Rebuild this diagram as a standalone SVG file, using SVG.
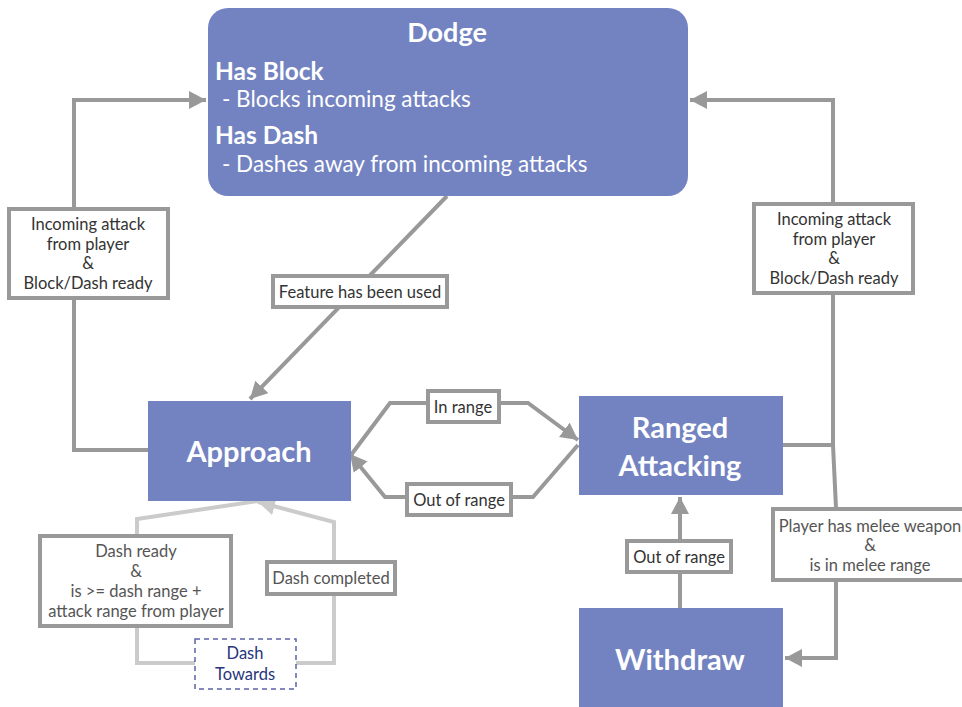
<svg xmlns="http://www.w3.org/2000/svg" width="962" height="707" viewBox="0 0 962 707">
<defs>
<marker id="ah" markerUnits="userSpaceOnUse" markerWidth="20" markerHeight="20" refX="17" refY="9" orient="auto"><path d="M0,0 L17,9 L0,18 z" fill="#999"/></marker>
<marker id="ahl" markerUnits="userSpaceOnUse" markerWidth="20" markerHeight="20" refX="17" refY="9" orient="auto"><path d="M0,0 L17,9 L0,18 z" fill="#cbcbcb"/></marker>
<style>
.node{fill:#7383c1}
.nt{font-family:Lato,"Liberation Sans",sans-serif;font-weight:bold;fill:#fff;text-anchor:middle;font-size:29px}
.c{fill:none;stroke:#999;stroke-width:4}
.cl{fill:none;stroke:#cbcbcb;stroke-width:4}
.lb{fill:#fff;stroke:#999;stroke-width:4}
.lt{font-family:Lato,"Liberation Sans",sans-serif;font-size:16.5px;fill:#333;text-anchor:middle}
.lg{fill:#555}
.dt{font-family:Lato,"Liberation Sans",sans-serif;fill:#fff}
</style>
</defs>
<rect width="962" height="707" fill="#fff"/>
<g id="connectors">
<path class="c" d="M148,450 L74,450 L74,100 L206,100" marker-end="url(#ah)"/>
<path class="c" d="M783,445 L833,445"/>
<path class="c" d="M833,445 L833,100 L690,100" marker-end="url(#ah)"/>
<path class="c" d="M833,445 L836,508 L836,658 L785,658" marker-end="url(#ah)"/>
<path class="c" d="M447,196 L250,399" marker-end="url(#ah)"/>
<path class="c" d="M351,455 L390,403 L528,403 L578,440" marker-end="url(#ah)"/>
<path class="c" d="M578,445 L533,497 L385,497 L350,454" marker-end="url(#ah)"/>
<path class="c" d="M680,608 L680,497" marker-end="url(#ah)"/>
<path class="cl" d="M195,663 L137,663 L137,519 L258,501"/>
<path class="cl" d="M296,663 L334,663 L334,522 L258,502" marker-end="url(#ahl)"/>
<g id="lbl-left">
<rect class="lb" x="9" y="209" width="159" height="89"/>
<text class="lt" x="88" y="230">Incoming attack</text>
<text class="lt" x="88" y="250">from player</text>
<text class="lt" x="88" y="269">&amp;</text>
<text class="lt" x="88" y="289">Block/Dash ready</text>
</g>
<g id="lbl-right">
<rect class="lb" x="754" y="204" width="159" height="89"/>
<text class="lt" x="834" y="225">Incoming attack</text>
<text class="lt" x="834" y="245">from player</text>
<text class="lt" x="834" y="264">&amp;</text>
<text class="lt" x="834" y="284">Block/Dash ready</text>
</g>
<g id="lbl-melee">
<rect class="lb" x="773" y="509" width="195" height="71"/>
<text class="lt lg" x="870" y="532">Player has melee weapon</text>
<text class="lt lg" x="870" y="551">&amp;</text>
<text class="lt lg" x="870" y="571">is in melee range</text>
</g>
<g id="lbl-feature">
<rect class="lb" x="273" y="276" width="174" height="31"/>
<text class="lt" x="360" y="298">Feature has been used</text>
</g>
<g id="lbl-inrange">
<rect class="lb" x="428" y="391" width="71" height="31"/>
<text class="lt" x="463" y="413">In range</text>
</g>
<g id="lbl-outrange1">
<rect class="lb" x="407" y="484" width="104" height="31"/>
<text class="lt" x="459" y="506">Out of range</text>
</g>
<g id="lbl-outrange2">
<rect class="lb" x="627" y="541" width="104" height="31"/>
<text class="lt" x="679" y="563">Out of range</text>
</g>
<g id="lbl-dashready">
<rect class="lb" x="40" y="536" width="191" height="90"/>
<text class="lt lg" x="136" y="557">Dash ready</text>
<text class="lt lg" x="136" y="577">&amp;</text>
<text class="lt lg" x="136" y="597">is &gt;= dash range +</text>
<text class="lt lg" x="136" y="617">attack range from player</text>
</g>
<g id="lbl-dashcompleted">
<rect class="lb" x="267" y="562" width="128" height="32"/>
<text class="lt lg" x="331" y="584">Dash completed</text>
</g>
</g>
<g id="dodge">
<rect class="node" x="208" y="8" width="480" height="188" rx="20"/>
<text class="nt" x="447" y="42" style="font-size:27px">Dodge</text>
<text class="dt" x="215" y="80" font-weight="bold" font-size="24.5">Has Block</text>
<text class="dt" x="222" y="107" font-size="22.5">- Blocks incoming attacks</text>
<text class="dt" x="215" y="144" font-weight="bold" font-size="24.5">Has Dash</text>
<text class="dt" x="222" y="172" font-size="22.5">- Dashes away from incoming attacks</text>
</g>
<g id="approach">
<rect class="node" x="148" y="401" width="203" height="100"/>
<text class="nt" x="249" y="462">Approach</text>
</g>
<g id="ranged">
<rect class="node" x="579" y="396" width="204" height="99"/>
<text class="nt" x="680" y="438">Ranged</text>
<text class="nt" x="680" y="476">Attacking</text>
</g>
<g id="withdraw">
<rect class="node" x="579" y="608" width="204" height="99"/>
<text class="nt" x="680" y="670">Withdraw</text>
</g>
<g id="dash-towards">
<rect x="195" y="639" width="101" height="50" fill="#fff" stroke="#5c63a8" stroke-width="1.5" stroke-dasharray="5,4"/>
<text class="lt" x="245" y="659" style="fill:#27357a">Dash</text>
<text class="lt" x="245" y="680" style="fill:#27357a">Towards</text>
</g>
</svg>
